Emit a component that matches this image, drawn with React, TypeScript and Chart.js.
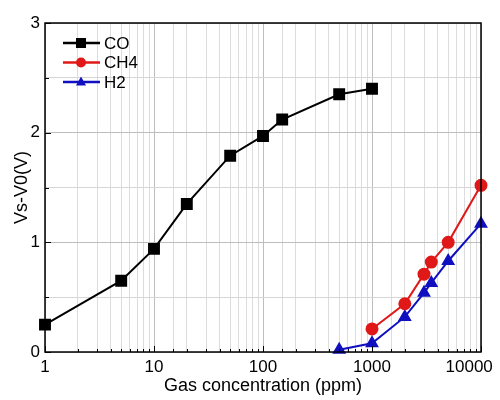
import { useEffect, useRef } from 'react';
import { Chart, registerables } from 'chart.js';

Chart.register(...registerables);

const coX = [1, 5, 10, 20, 50, 100, 150, 500, 1000];
const coY = [0.25, 0.65, 0.94, 1.35, 1.79, 1.97, 2.12, 2.35, 2.4];
const ch4X = [1000, 2000, 3000, 3500, 5000, 10000];
const ch4Y = [0.21, 0.44, 0.71, 0.82, 1.0, 1.52];
const h2X = [500, 1000, 2000, 3000, 3500, 5000, 10000];
const h2Y = [0.02, 0.08, 0.32, 0.54, 0.63, 0.83, 1.17];
const seriesNames = ['CO', 'CH4', 'H2'];

const FONT = '"Liberation Sans", Arial, sans-serif';
const FS = 17;

const toPoints = (xs: number[], ys: number[]) => xs.map((x, i) => ({ x, y: ys[i] }));
const isMajor = (v: number) => Math.abs(Math.log10(v) - Math.round(Math.log10(v))) < 1e-9;

function drawMarker(ctx: CanvasRenderingContext2D, style: string, x: number, y: number, r: number) {
    ctx.beginPath();
    if (style === 'rect') {
        ctx.rect(x - r, y - r, r * 2, r * 2);
    } else if (style === 'circle') {
        ctx.arc(x, y, r, 0, Math.PI * 2);
    } else {
        ctx.moveTo(x, y - r * 1.1);
        ctx.lineTo(x + r, y + r * 0.7);
        ctx.lineTo(x - r, y + r * 0.7);
        ctx.closePath();
    }
    ctx.fill();
}

// box round the plot, inner tick marks and the legend inside the plot
const framePlugin = {
    id: 'frame',
    afterDraw(chart: any) {
        const { ctx, chartArea, scales } = chart;
        const { left, right, top, bottom } = chartArea;
        ctx.save();
        ctx.strokeStyle = '#000';
        ctx.lineWidth = 1.5;
        ctx.strokeRect(left, top, right - left, bottom - top);

        ctx.lineWidth = 1;
        ctx.beginPath();
        scales.x.ticks.forEach((t: any) => {
            const px = Math.round(scales.x.getPixelForValue(t.value)) + 0.5;
            const len = isMajor(t.value) ? 6 : 3;
            ctx.moveTo(px, bottom);
            ctx.lineTo(px, bottom - len);
        });
        scales.y.ticks.forEach((t: any) => {
            const py = Math.round(scales.y.getPixelForValue(t.value)) + 0.5;
            const len = Number.isInteger(t.value) ? 6 : 4;
            ctx.moveTo(left, py);
            ctx.lineTo(left + len, py);
        });
        ctx.stroke();

        chart.data.datasets.forEach((ds: any, i: number) => {
            const y = 43 + i * 19.5;
            ctx.strokeStyle = ds.borderColor;
            ctx.lineWidth = 2.5;
            ctx.beginPath();
            ctx.moveTo(63, y);
            ctx.lineTo(100, y);
            ctx.stroke();
            ctx.fillStyle = ds.pointBackgroundColor;
            drawMarker(ctx, ds.pointStyle, 81, y, 5);
            ctx.fillStyle = '#000';
            ctx.font = `${FS}px ${FONT}`;
            ctx.textBaseline = 'middle';
            ctx.textAlign = 'left';
            ctx.fillText(ds.label, 104, y + 1);
        });
        ctx.restore();
    },
};

export default function App() {
    const canvasRef = useRef<HTMLCanvasElement>(null);
    const chartRef = useRef<Chart | null>(null);

    useEffect(() => {
        document.body.style.margin = '0';
        if (!canvasRef.current) return;
        const ctx = canvasRef.current.getContext('2d');
        if (!ctx) return;
        if (chartRef.current) chartRef.current.destroy();

        chartRef.current = new Chart(ctx, {
            type: 'line',
            data: {
                datasets: [
                    {
                        label: seriesNames[0],
                        data: toPoints(coX, coY),
                        borderColor: '#000',
                        backgroundColor: '#000',
                        pointBackgroundColor: '#000',
                        pointBorderColor: '#000',
                        pointStyle: 'rect',
                        pointRadius: 7,
                        borderWidth: 2,
                    },
                    {
                        label: seriesNames[1],
                        data: toPoints(ch4X, ch4Y),
                        borderColor: '#e01818',
                        backgroundColor: '#e01818',
                        pointBackgroundColor: '#e01818',
                        pointBorderColor: '#e01818',
                        pointStyle: 'circle',
                        pointRadius: 5.5,
                        borderWidth: 2,
                    },
                    {
                        label: seriesNames[2],
                        data: toPoints(h2X, h2Y),
                        borderColor: '#1010c0',
                        backgroundColor: '#1010c0',
                        pointBackgroundColor: '#1010c0',
                        pointBorderColor: '#1010c0',
                        pointStyle: 'triangle',
                        pointRadius: 6,
                        borderWidth: 2,
                    },
                ],
            },
            options: {
                animation: false,
                responsive: false,
                clip: false,
                layout: { padding: { top: 23, right: 19, left: 0, bottom: 0 } },
                plugins: {
                    legend: { display: false },
                    tooltip: { enabled: false },
                },
                scales: {
                    x: {
                        type: 'logarithmic',
                        min: 1,
                        max: 10000,
                        border: { display: false },
                        grid: {
                            drawTicks: false,
                            color: (c: any) => (isMajor(c.tick.value) ? '#bdbdbd' : '#dcdcdc'),
                        },
                        ticks: {
                            autoSkip: false,
                            maxRotation: 0,
                            padding: 5,
                            color: '#000',
                            font: { family: FONT, size: FS },
                            // last label sits a little left of its tick, as in the source
                            callback: (v: any) => {
                                const n = Number(v);
                                if (!isMajor(n)) return '';
                                return n === 10000 ? '10000     ' : String(n);
                            },
                        },
                        title: {
                            display: true,
                            text: 'Gas concentration (ppm)',
                            color: '#000',
                            font: { family: FONT, size: 18 },
                            padding: { top: 0, bottom: 3 },
                        },
                        afterFit: (s: any) => {
                            s.height = 48;
                            s.paddingRight = 0;
                            s.paddingLeft = 0;
                        },
                    },
                    y: {
                        min: 0,
                        max: 3,
                        border: { display: false },
                        grid: {
                            drawTicks: false,
                            color: (c: any) => (Number.isInteger(c.tick.value) ? '#bdbdbd' : '#d6d6d6'),
                        },
                        ticks: {
                            stepSize: 0.5,
                            padding: 5,
                            color: '#000',
                            font: { family: FONT, size: FS },
                            callback: (v: any) => (Number.isInteger(Number(v)) ? String(v) : ''),
                        },
                        title: {
                            display: true,
                            text: 'Vs-V0(V)',
                            color: '#000',
                            font: { family: FONT, size: 18 },
                            padding: { top: 11, bottom: 0 },
                        },
                        afterFit: (s: any) => {
                            s.width = 45;
                            s.paddingTop = 0;
                            s.paddingBottom = 0;
                        },
                    },
                },
            },
            plugins: [framePlugin],
        });

        return () => {
            if (chartRef.current) {
                chartRef.current.destroy();
                chartRef.current = null;
            }
        };
    }, []);

    return (
        <div style={{ width: 500, height: 400, background: '#fff' }}>
            <canvas ref={canvasRef} width={500} height={400} />
        </div>
    );
}
